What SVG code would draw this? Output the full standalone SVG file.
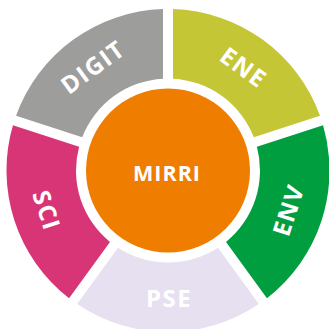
<svg xmlns="http://www.w3.org/2000/svg" xmlns:xlink="http://www.w3.org/1999/xlink" width="329" height="329" viewBox="0 0 329 329">
  <style>
    .lbl { font-family: "Open Sans", "Liberation Sans", sans-serif; font-weight: 700; font-size: 24px; letter-spacing: 1.5px; fill: #ffffff; text-anchor: middle; }
    .ctr { font-size: 21.5px; letter-spacing: 1px; }
  </style>
  <defs>
    <path id="seg" d="M173,9.08 A161.5,161.5 0 0 1 319.98,115.86 L253.82,137.36 A92,92 0 0 0 173,78.64 Z"/>
  </defs>
  <rect width="329" height="329" fill="#ffffff"/>
  <g id="ene">
    <use xlink:href="#seg" href="#seg" fill="#c5c636"/>
    <text class="lbl" transform="translate(243.5,67.5) rotate(36)" dy="8.5">ENE</text>
  </g>
  <g id="env">
    <use xlink:href="#seg" href="#seg" fill="#009e3f" transform="rotate(72 168 170.5)"/>
    <text class="lbl" transform="translate(288.5,210) rotate(-72)" dy="8.5">ENV</text>
  </g>
  <g id="pse">
    <use xlink:href="#seg" href="#seg" fill="#e6e0f1" transform="rotate(144 168 170.5)"/>
    <text class="lbl" transform="translate(169,298.5)" dy="8.5">PSE</text>
  </g>
  <g id="sci">
    <use xlink:href="#seg" href="#seg" fill="#d83577" transform="rotate(216 168 170.5)"/>
    <text class="lbl" transform="translate(46.5,210.5) rotate(72)" dy="8.5">SCI</text>
  </g>
  <g id="digit">
    <use xlink:href="#seg" href="#seg" fill="#9d9d9c" transform="rotate(288 168 170.5)"/>
    <text class="lbl" transform="translate(93,67) rotate(-36)" dy="8.5">DIGIT</text>
  </g>
  <g id="mirri">
    <circle cx="168" cy="170.5" r="82" fill="#ef7d00"/>
    <text class="lbl ctr" x="167" y="180.5">MIRRI</text>
  </g>
  <g id="connectors"/>
</svg>
